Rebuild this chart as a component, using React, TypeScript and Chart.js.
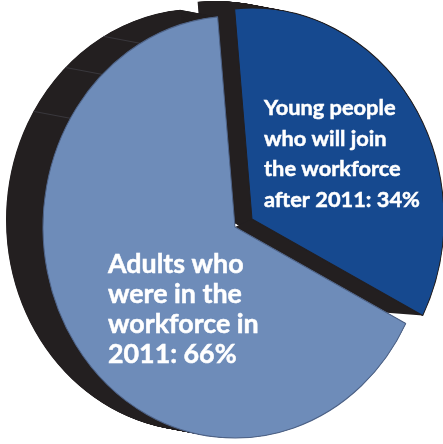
import React, { useEffect, useRef } from "react";
import { Chart, registerables } from "chart.js";

Chart.register(...registerables);

const categories = [
  "Young people who will join the workforce after 2011",
  "Adults who were in the workforce in 2011",
];
const shareValues = [34, 66];
const sliceColors = ["#16498f", "#6e8cb9"];
const sliceBorders = ["#231f20", "#4f6489"];
const labelLines = [
  ["Young people", "who will join", "the workforce", "after 2011: 34%"],
  ["Adults who", "were in the", "workforce in", "2011: 66%"],
];

const EDGE = "#231f20";
const SEAM = "#3d3c42";
const Y_STRETCH = 1.099;
const DEPTH_X = -37;
const DEPTH_Y = -7;
const EXPLODE_X = 17;
const EXPLODE_Y = -8;
const WALL_MEET = 0.89;
const seamDegrees = [-59, -43.7, -29.5];
const labelStyles = [
  { x: 264, y: 115, step: 30.6, font: "700 21.8px Lato", bold: 0.5 },
  { x: 108, y: 273, step: 30, font: "700 26.8px Lato", bold: 0.5 },
];

const piePlugin = {
  id: "pie3d",
  afterDatasetUpdate(chart: any) {
    const young = chart.getDatasetMeta(0).data[0];
    young.x += EXPLODE_X;
    young.y += EXPLODE_Y / Y_STRETCH;
  },
  beforeDatasetsDraw(chart: any) {
    const ctx = chart.ctx;
    const arcs = chart.getDatasetMeta(0).data;
    const cx = arcs[1].x;
    const cy = arcs[1].y;
    ctx.save();
    ctx.translate(cx, cy);
    ctx.scale(1, Y_STRETCH);
    ctx.translate(-cx, -cy);
    ctx.fillStyle = EDGE;
    const steps = 80;
    for (const arc of arcs) {
      for (let i = 0; i <= steps; i++) {
        const t = i / steps;
        const ox = DEPTH_X * t;
        const oy = (DEPTH_Y * t) / Y_STRETCH;
        ctx.beginPath();
        ctx.moveTo(arc.x + ox, arc.y + oy);
        ctx.arc(arc.x + ox, arc.y + oy, arc.outerRadius, arc.startAngle, arc.endAngle);
        ctx.closePath();
        ctx.fill();
      }
    }
    // inner wall of the pulled-out slice: meets the other slice's edge, then tapers to the tip
    const young = arcs[0];
    const adults = arcs[1];
    ctx.beginPath();
    ctx.moveTo(adults.x, adults.y);
    ctx.lineTo(young.x, young.y);
    ctx.lineTo(
      young.x + Math.cos(young.endAngle) * young.outerRadius,
      young.y + Math.sin(young.endAngle) * young.outerRadius
    );
    ctx.lineTo(
      adults.x + Math.cos(adults.startAngle) * adults.outerRadius * WALL_MEET,
      adults.y + Math.sin(adults.startAngle) * adults.outerRadius * WALL_MEET
    );
    ctx.closePath();
    ctx.fill();
    ctx.strokeStyle = SEAM;
    ctx.lineWidth = 0.8;
    for (const deg of seamDegrees) {
      const a = ((deg - 90) * Math.PI) / 180;
      const r = adults.outerRadius;
      const x = adults.x + Math.cos(a) * r;
      const y = adults.y + Math.sin(a) * r;
      ctx.beginPath();
      ctx.moveTo(x, y);
      ctx.lineTo(x + DEPTH_X, y + DEPTH_Y / Y_STRETCH);
      ctx.stroke();
    }
  },
  afterDatasetsDraw(chart: any) {
    const ctx = chart.ctx;
    ctx.restore();
    ctx.save();
    ctx.fillStyle = "#ffffff";
    ctx.strokeStyle = "#ffffff";
    ctx.textAlign = "left";
    ctx.textBaseline = "alphabetic";
    labelLines.forEach((lines, i) => {
      const s = labelStyles[i];
      ctx.font = s.font;
      ctx.lineWidth = s.bold;
      lines.forEach((line, j) => {
        ctx.fillText(line, s.x, s.y + j * s.step);
        ctx.strokeText(line, s.x, s.y + j * s.step);
      });
    });
    ctx.restore();
  },
};

export default function App() {
  const ref = useRef<HTMLCanvasElement>(null);
  useEffect(() => {
    const chart = new Chart(ref.current as HTMLCanvasElement, {
      type: "pie",
      data: {
        labels: categories,
        datasets: [
          {
            data: shareValues,
            backgroundColor: sliceColors,
            borderColor: sliceBorders,
            borderWidth: 1,
            clip: false,
          } as any,
        ],
      },
      options: {
        animation: false,
        responsive: false,
        devicePixelRatio: 1,
        rotation: -5.2,
        radius: 192,
        layout: { padding: { left: 27, right: 0, top: 10, bottom: 0 } },
        plugins: { legend: { display: false }, tooltip: { enabled: false } },
        events: [],
      } as any,
      plugins: [piePlugin],
    });
    return () => chart.destroy();
  }, []);
  return (
    <div style={{ position: "fixed", left: 0, top: 0, width: 443, height: 444, background: "#fff" }}>
      <canvas ref={ref} width={443} height={444} style={{ display: "block" }} />
    </div>
  );
}
